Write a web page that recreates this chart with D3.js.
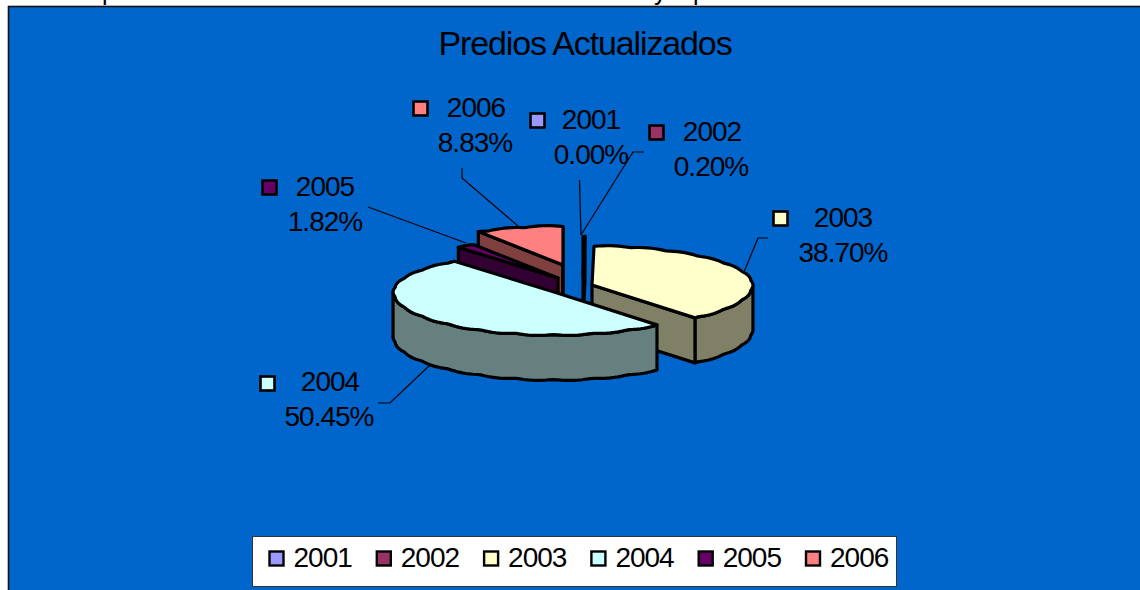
<!DOCTYPE html>
<html>
<head>
<meta charset="utf-8">
<script src="https://cdn.jsdelivr.net/npm/d3@7/dist/d3.min.js"></script>
<style>
html,body{margin:0;padding:0;background:#fff;overflow:hidden}
svg{display:block}
text{font-family:"Liberation Sans",Arial,sans-serif;fill:#000}
</style>
</head>
<body>
<svg id="c" width="1140" height="590"></svg>
<script>
const categories = ["2001","2002","2003","2004","2005","2006"];
const shares = [0.00,0.20,38.70,50.45,1.82,8.83];
const topColors = ["#9999ff","#993366","#ffffcc","#ccffff","#660066","#ff8080"];
const sideColors = ["#4d4d80","#4d1a33","#808066","#668080","#330033","#804040"];
const chartTitle = "Predios Actualizados";

const W = 1140, H = 590;
const svg = d3.select("#c");

// clipped line of text above the chart
svg.append("g").attr("font-size",25).selectAll("text")
  .data([["p",102],["y",654],["p",693]]).join("text")
  .attr("x",d=>d[1]).attr("y",0).text(d=>d[0]);

svg.append("rect").attr("x",8.5).attr("y",6.5).attr("width",W+10).attr("height",H+10)
  .attr("fill","#0066cc").attr("stroke","#111").attr("stroke-width",1.6);

svg.append("text").attr("x",585).attr("y",55).attr("text-anchor","middle")
  .attr("font-size",34).attr("letter-spacing",-1.13).text(chartTitle);

// pie geometry
const rx = 160, ryBack = 38.5, ryFront = 42.5, depth = 45;
// exploded centre of each slice, by category
const centres = {"2001":[583,275],"2002":[583,275],"2003":[592,285],"2004":[554,292],"2005":[558,278],"2006":[563,265]};
const drawOrder = ["2006","2005","2002","2003","2004"];

const pie = d3.pie().value(d=>d.v).sort(null).startAngle(0).endAngle(2*Math.PI);
const arcs = pie(categories.map((c,i)=>({c,v:shares[i],top:topColors[i],side:sideColors[i]})));

const rim = (c,a,dy=0) => {
  const b = Math.abs(Math.sin(a*13));
  const ry = Math.cos(a)>0 ? ryBack : ryFront;
  return [c[0]+rx*(1+0.006*b)*Math.sin(a), c[1]-ry*(1+0.028*b)*Math.cos(a)+dy];
};
const line = d3.line();
const sweep = (a0,a1) => {
  const n = Math.max(1,Math.ceil((a1-a0)/(Math.PI/120)));
  return d3.range(n+1).map(i=>a0+(a1-a0)*i/n);
};

const gPie = svg.append("g").attr("stroke","#000").attr("stroke-width",3.2).attr("stroke-linejoin","round");
drawOrder.forEach(cat=>{
  const d = arcs.find(x=>x.data.c===cat);
  const c = centres[cat], a0 = d.startAngle, a1 = d.endAngle;
  const g = gPie.append("g").attr("class","slice");
  const f0 = Math.max(a0,Math.PI/2), f1 = Math.min(a1,3*Math.PI/2);
  if (f1>f0){
    const t = sweep(f0,f1);
    const pts = t.map(a=>rim(c,a)).concat(t.slice().reverse().map(a=>rim(c,a,depth)));
    g.append("path").attr("d",line(pts)+"Z").attr("fill",d.data.side);
  }
  const wall = a => {
    const p = rim(c,a);
    g.append("path").attr("d",line([c,p,[p[0],p[1]+depth],[c[0],c[1]+depth]])+"Z").attr("fill",d.data.side);
  };
  if (Math.sin(a0)<0) wall(a0);
  if (Math.sin(a1)>0) wall(a1);
  const top = [c].concat(sweep(a0,a1).map(a=>rim(c,a)));
  g.append("path").attr("d",line(top)+"Z").attr("fill",d.data.top);
});

// data labels
const labelLayout = {
  "2001":{s:[530,113],x:591,y:129,x2:591,lead:[[579.5,180],[581,235]]},
  "2002":{s:[649,125],x:712,y:141,x2:711,lead:[[644,152],[633,152],[581,235]]},
  "2003":{s:[773,211],x:843,y:227,x2:843,lead:[[768,238],[758,238],[744,272]]},
  "2004":{s:[260,376],x:330,y:391,x2:329,lead:[[378,403],[390,403],[430,365]]},
  "2005":{s:[262,180],x:325,y:196,x2:325,lead:[[368,207],[466,243]]},
  "2006":{s:[413,101],x:476,y:117,x2:475,lead:[[462,168],[462,178],[518,226]]}
};
const gLab = svg.append("g").attr("font-size",28).attr("letter-spacing",-1).attr("text-anchor","middle");
categories.forEach((cat,i)=>{
  const L = labelLayout[cat];
  gLab.append("path").attr("d",line(L.lead)).attr("fill","none").attr("stroke","#000").attr("stroke-width",1.2);
  gLab.append("rect").attr("x",L.s[0]+0.5).attr("y",L.s[1]+0.5).attr("width",14).attr("height",14)
    .attr("fill",topColors[i]).attr("stroke","#000").attr("stroke-width",2.6);
  gLab.append("text").attr("x",L.x).attr("y",L.y).text(cat);
  gLab.append("text").attr("x",L.x2).attr("y",L.y+35).text(d3.format(".2f")(shares[i])+"%");
});

// legend
const lg = svg.append("g");
lg.append("rect").attr("x",252.5).attr("y",536.5).attr("width",644).attr("height",50)
  .attr("fill","#fff").attr("stroke","#333").attr("stroke-width",1);
const lx = d3.scalePoint().domain(categories).range([269.5,806]);
categories.forEach((cat,i)=>{
  lg.append("rect").attr("x",lx(cat)).attr("y",551.5).attr("width",14).attr("height",14)
    .attr("fill",topColors[i]).attr("stroke","#000").attr("stroke-width",2.4);
  lg.append("text").attr("x",lx(cat)+24).attr("y",567).attr("font-size",28).attr("letter-spacing",-1).text(cat);
});
</script>
</body>
</html>
